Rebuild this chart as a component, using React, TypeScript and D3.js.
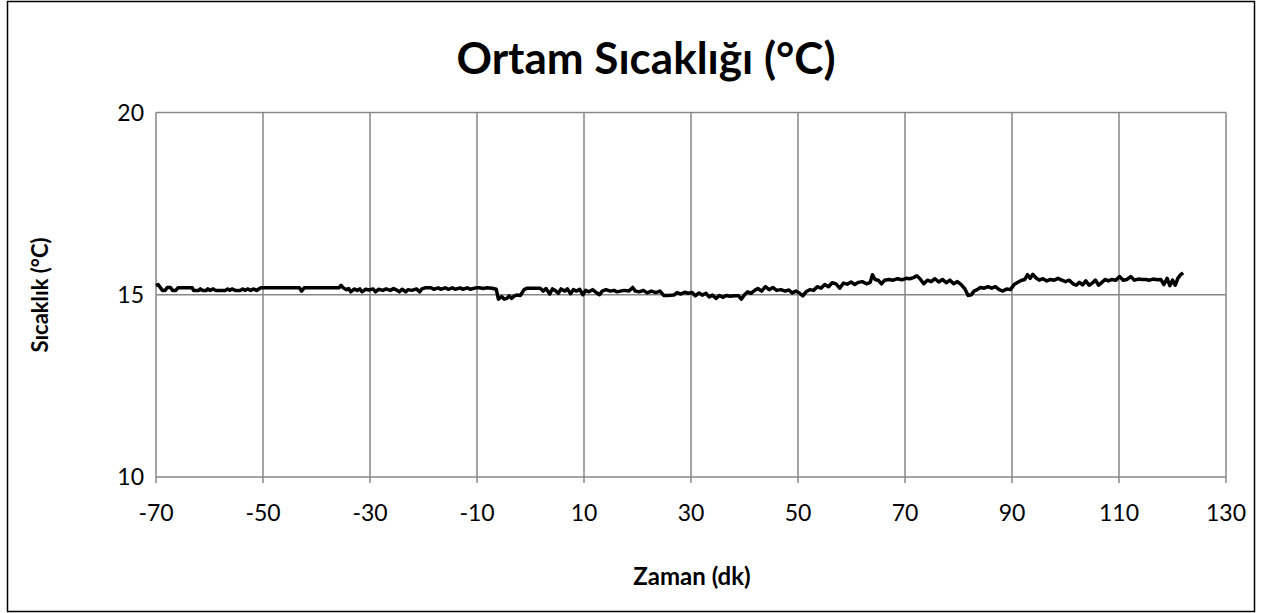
import React from "react";
import * as d3 from "d3";

const chartTitle = "Ortam Sıcaklığı (°C)";
const xTitle = "Zaman (dk)";
const yTitle = "Sıcaklık (°C)";
const xTicks = [-70, -50, -30, -10, 10, 30, 50, 70, 90, 110, 130];
const yTicks = [10, 15, 20];

const times = [
  -70.0, -69.6, -69.2, -68.8, -68.3, -67.9, -67.3, -66.9, -66.3, -65.9,
  -63.2, -63.0, -62.0, -61.7, -61.3, -60.6, -60.3, -59.9, -59.3, -58.9,
  -57.0, -56.6, -56.2, -55.8, -55.2, -54.2, -53.8, -53.3, -52.9, -52.3,
  -51.8, -51.2, -50.4, -43.2, -42.8, -42.3, -35.8, -35.4, -35.0, -34.4,
  -34.0, -33.6, -32.9, -32.4, -31.9, -31.5, -30.8, -30.2, -29.4, -29.0,
  -28.4, -27.6, -27.0, -26.2, -25.6, -24.9, -24.5, -24.0, -23.3, -22.9,
  -22.2, -21.3, -20.7, -20.3, -19.7, -18.6, -18.1, -17.2, -16.8, -15.9,
  -15.4, -14.6, -14.1, -13.1, -12.7, -11.8, -11.3, -10.2, -9.6, -8.8,
  -8.3, -7.2, -6.4, -6.0, -5.4, -4.9, -4.4, -4.0, -3.5, -3.1,
  -2.6, -1.9, -1.2, -0.6, 1.8, 2.4, 2.9, 3.6, 4.1, 4.6,
  5.2, 5.7, 6.4, 6.9, 7.5, 8.0, 8.6, 9.2, 9.8, 10.3,
  10.9, 11.6, 12.2, 12.9, 13.4, 14.1, 14.9, 15.6, 16.2, 16.8,
  17.5, 18.4, 19.1, 19.6, 20.3, 21.1, 21.8, 22.6, 23.4, 24.2,
  24.9, 25.6, 26.8, 27.4, 28.1, 28.8, 29.5, 30.2, 30.8, 31.5,
  32.1, 32.8, 33.4, 34.0, 34.7, 35.3, 36.0, 36.6, 37.3, 38.2,
  38.9, 39.4, 40.0, 40.6, 41.2, 41.9, 42.5, 43.2, 43.9, 44.6,
  45.3, 46.0, 46.8, 47.6, 48.3, 48.9, 49.6, 50.3, 50.9, 51.5,
  52.2, 52.9, 53.6, 54.3, 55.0, 55.7, 56.4, 57.1, 57.8, 58.5,
  59.2, 59.9, 60.6, 61.3, 62.0, 62.8, 63.5, 63.9, 64.4, 65.0,
  65.6, 66.2, 67.0, 67.8, 68.6, 69.4, 70.2, 70.9, 71.6, 72.2,
  72.8, 73.5, 74.2, 74.9, 75.6, 76.3, 77.0, 77.7, 78.4, 79.1,
  79.8, 80.5, 81.2, 81.8, 82.4, 82.9, 83.5, 84.1, 84.8, 85.5,
  86.2, 86.9, 87.6, 88.3, 89.0, 89.7, 90.4, 91.1, 91.8, 92.4,
  92.9, 93.4, 93.9, 94.5, 95.1, 95.8, 96.5, 97.2, 97.9, 98.6,
  99.3, 100.0, 100.7, 101.4, 102.0, 102.6, 103.2, 103.8, 104.4, 105.0,
  105.6, 106.2, 106.8, 107.4, 108.0, 108.7, 109.4, 110.1, 110.8, 111.5,
  112.2, 112.9, 113.6, 114.3, 115.0, 115.7, 116.4, 117.1, 117.8, 118.4,
  119.0, 119.5, 120.0, 120.5, 121.0, 121.5, 122.0
];

const temps = [
  15.25, 15.28, 15.20, 15.12, 15.12, 15.20, 15.20, 15.12, 15.12, 15.19,
  15.19, 15.12, 15.12, 15.16, 15.12, 15.12, 15.16, 15.12, 15.16, 15.12,
  15.12, 15.16, 15.12, 15.16, 15.12, 15.12, 15.16, 15.12, 15.16, 15.12,
  15.16, 15.12, 15.19, 15.19, 15.10, 15.19, 15.19, 15.26, 15.19, 15.14,
  15.17, 15.08, 15.16, 15.12, 15.16, 15.08, 15.15, 15.13, 15.16, 15.08,
  15.15, 15.12, 15.16, 15.12, 15.17, 15.12, 15.08, 15.15, 15.08, 15.14,
  15.12, 15.16, 15.08, 15.16, 15.19, 15.19, 15.15, 15.19, 15.15, 15.19,
  15.15, 15.19, 15.15, 15.19, 15.15, 15.19, 15.15, 15.19, 15.19, 15.17,
  15.19, 15.18, 15.15, 14.88, 14.95, 14.88, 14.90, 14.97, 14.90, 14.96,
  14.99, 14.98, 15.14, 15.18, 15.18, 15.10, 15.17, 15.02, 15.16, 15.12,
  15.04, 15.16, 15.10, 15.16, 15.03, 15.14, 15.10, 15.15, 15.00, 15.12,
  15.08, 15.14, 15.07, 15.00, 15.10, 15.14, 15.10, 15.12, 15.08, 15.10,
  15.12, 15.10, 15.20, 15.10, 15.08, 15.12, 15.05, 15.10, 15.06, 15.10,
  14.98, 14.98, 14.99, 15.06, 15.02, 15.07, 15.04, 15.06, 14.97, 15.05,
  14.99, 15.04, 14.94, 14.99, 14.90, 14.98, 14.93, 14.98, 14.96, 14.97,
  14.97, 14.88, 15.00, 15.08, 15.04, 15.12, 15.17, 15.10, 15.22, 15.14,
  15.20, 15.12, 15.14, 15.10, 15.13, 15.05, 15.10, 15.04, 14.97, 15.08,
  15.14, 15.12, 15.22, 15.18, 15.28, 15.22, 15.33, 15.30, 15.18, 15.32,
  15.29, 15.35, 15.28, 15.34, 15.36, 15.30, 15.34, 15.55, 15.42, 15.40,
  15.30, 15.40, 15.42, 15.40, 15.44, 15.41, 15.45, 15.44, 15.47, 15.52,
  15.44, 15.30, 15.40, 15.36, 15.44, 15.35, 15.42, 15.33, 15.40, 15.30,
  15.36, 15.28, 15.16, 14.98, 15.00, 15.10, 15.14, 15.20, 15.18, 15.22,
  15.18, 15.22, 15.14, 15.10, 15.16, 15.14, 15.28, 15.34, 15.40, 15.42,
  15.55, 15.45, 15.56, 15.46, 15.40, 15.44, 15.38, 15.42, 15.40, 15.45,
  15.40, 15.36, 15.40, 15.30, 15.26, 15.34, 15.27, 15.38, 15.26, 15.32,
  15.40, 15.26, 15.34, 15.42, 15.38, 15.42, 15.40, 15.50, 15.40, 15.42,
  15.50, 15.40, 15.43, 15.42, 15.42, 15.40, 15.43, 15.41, 15.42, 15.28,
  15.45, 15.25, 15.40, 15.26, 15.45, 15.55, 15.60
];

const W = 1262;
const H = 613;
const M = { left: 156, right: 1226, top: 112.5, bottom: 477 };

export default function App() {
  const x = d3.scaleLinear().domain([-70, 130]).range([M.left, M.right]);
  const y = d3.scaleLinear().domain([10, 20]).range([M.bottom, M.top]);
  const pts: [number, number][] = times.map((t, i) => [t, temps[i]]);
  const line = d3
    .line<[number, number]>()
    .x((d) => x(d[0]))
    .y((d) => y(d[1]));
  const font = "Lato, 'Open Sans', sans-serif";
  const grid = "#878787";
  return (
    <svg
      width={W}
      height={H}
      style={{ position: "absolute", left: 0, top: 0, display: "block" }}
      fontFamily={font}
    >
      <rect x={0} y={0} width={W} height={H} fill="#fff" />
      <rect x={7.5} y={1.5} width={1247} height={610} fill="none" stroke="#000" strokeWidth={1.5} />
      <text x={646} y={74} textAnchor="middle" fontSize={44} fontWeight="bold" fill="#000">
        {chartTitle}
      </text>
      {xTicks.map((t) => (
        <line key={"gx" + t} x1={x(t)} x2={x(t)} y1={M.top} y2={M.bottom + 6} stroke={grid} strokeWidth={1.5} />
      ))}
      {yTicks.map((t) => (
        <line key={"gy" + t} x1={M.left} x2={M.right} y1={y(t)} y2={y(t)} stroke={grid} strokeWidth={1.5} />
      ))}
      {yTicks.map((t) => (
        <text key={"ty" + t} x={144} y={y(t) + 8} textAnchor="end" fontSize={23} fill="#000">
          {t}
        </text>
      ))}
      {xTicks.map((t) => (
        <text key={"tx" + t} x={x(t)} y={521} textAnchor="middle" fontSize={23} fill="#000">
          {t}
        </text>
      ))}
      <path d={line(pts) || ""} fill="none" stroke="#000" strokeWidth={3.5} strokeLinejoin="round" />
      <text x={692} y={585} textAnchor="middle" fontSize={24} fontWeight="bold" fill="#000">
        {xTitle}
      </text>
      <text
        transform={`translate(48,295) rotate(-90)`}
        textAnchor="middle"
        fontSize={22}
        fontWeight="bold"
        fill="#000"
      >
        {yTitle}
      </text>
    </svg>
  );
}
